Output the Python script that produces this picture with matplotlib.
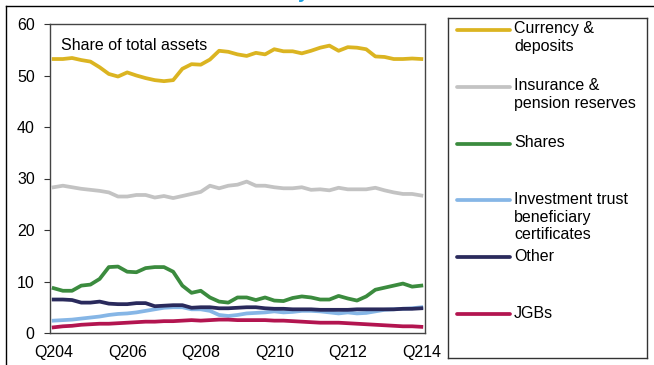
import matplotlib.pyplot as plt
from matplotlib.lines import Line2D

plt.rcParams['font.family'] = ['Liberation Sans', 'DejaVu Sans']

# quarterly shares of household financial assets, Q2 2004 - Q2 2014 (%)
quarters = list(range(41))
tick_pos = [0, 8, 16, 24, 32, 40]
tick_labels = ['Q204', 'Q206', 'Q208', 'Q210', 'Q212', 'Q214']

currency = [53.2, 53.2, 53.4, 53.0, 52.7, 51.6, 50.3, 49.8, 50.6, 50.0,
            49.5, 49.1, 48.9, 49.1, 51.3, 52.2, 52.1, 53.1, 54.8, 54.6,
            54.1, 53.8, 54.4, 54.1, 55.1, 54.7, 54.7, 54.3, 54.8, 55.4,
            55.8, 54.8, 55.5, 55.4, 55.1, 53.7, 53.6, 53.2, 53.2, 53.3, 53.2]
insurance = [28.3, 28.6, 28.3, 28.0, 27.8, 27.6, 27.3, 26.5, 26.5, 26.8,
             26.8, 26.3, 26.6, 26.2, 26.6, 27.0, 27.4, 28.6, 28.1, 28.6,
             28.8, 29.4, 28.6, 28.6, 28.3, 28.1, 28.1, 28.3, 27.8, 27.9,
             27.7, 28.2, 27.9, 27.9, 27.9, 28.2, 27.7, 27.3, 27.0, 27.0, 26.7]
shares = [8.7, 8.2, 8.2, 9.2, 9.4, 10.5, 12.8, 12.9, 11.9, 11.8,
          12.6, 12.8, 12.8, 11.9, 9.2, 7.8, 8.2, 6.9, 6.1, 5.9,
          6.9, 6.9, 6.4, 6.9, 6.3, 6.2, 6.8, 7.1, 6.9, 6.5,
          6.5, 7.2, 6.7, 6.3, 7.1, 8.4, 8.8, 9.2, 9.6, 9.0, 9.2]
inv_trust = [2.4, 2.5, 2.6, 2.8, 3.0, 3.2, 3.5, 3.7, 3.8, 4.0,
             4.3, 4.6, 4.9, 5.0, 5.0, 4.6, 4.6, 4.3, 3.5, 3.3,
             3.5, 3.8, 3.9, 4.0, 4.2, 4.0, 4.1, 4.3, 4.3, 4.2,
             4.0, 3.8, 4.0, 3.8, 3.9, 4.2, 4.5, 4.6, 4.7, 4.8, 5.0]
other = [6.5, 6.5, 6.4, 5.9, 5.9, 6.1, 5.7, 5.6, 5.6, 5.8,
         5.8, 5.2, 5.3, 5.4, 5.4, 4.9, 5.0, 5.0, 4.8, 4.8,
         4.9, 5.0, 5.0, 4.8, 4.7, 4.7, 4.6, 4.6, 4.6, 4.5,
         4.5, 4.5, 4.5, 4.6, 4.6, 4.6, 4.6, 4.6, 4.7, 4.7, 4.8]
jgbs = [1.1, 1.3, 1.4, 1.6, 1.7, 1.8, 1.8, 1.9, 2.0, 2.1,
        2.2, 2.2, 2.3, 2.3, 2.4, 2.5, 2.4, 2.5, 2.6, 2.6,
        2.5, 2.5, 2.5, 2.5, 2.4, 2.4, 2.3, 2.2, 2.1, 2.0,
        2.0, 2.0, 1.9, 1.8, 1.7, 1.6, 1.5, 1.4, 1.3, 1.3, 1.2]

series = [
    ('Currency &\ndeposits', currency, '#DBB421'),
    ('Insurance &\npension reserves', insurance, '#C3C3C3'),
    ('Shares', shares, '#3B8B3E'),
    ('Investment trust\nbeneficiary\ncertificates', inv_trust, '#86B6E6'),
    ('Other', other, '#2A2A5C'),
    ('JGBs', jgbs, '#B31550'),
]

fig = plt.figure(figsize=(6.54, 3.65), dpi=100)
ax = fig.add_axes([50 / 654, 1 - 333 / 365, 375 / 654, 309 / 365])

for label, vals, col in series:
    ax.plot(quarters, vals, color=col, lw=2.7, solid_joinstyle='round')

ax.set_xlim(-0.4, 40.4)
ax.set_ylim(0, 60)
ax.set_yticks(range(0, 61, 10))
ax.set_xticks(tick_pos)
ax.set_xticklabels(tick_labels)
ax.tick_params(axis='y', direction='out', length=4, width=0.8, pad=7,
               labelsize=11.5, color='#333333')
ax.tick_params(axis='x', length=0, pad=8.5, labelsize=11.5)
for sp in ax.spines.values():
    sp.set_color('#444444')
    sp.set_linewidth(1)
ax.text(0.03, 0.955, 'Share of total assets', transform=ax.transAxes,
        fontsize=11.5, va='top', ha='left')

# legend box drawn by hand so the key lines sit level with the first text line
lg = fig.add_axes([448 / 654, 1 - 358 / 365, 199 / 654, 340 / 365])
lg.set_xlim(0, 199)
lg.set_ylim(340, 0)
lg.set_xticks([])
lg.set_yticks([])
for sp in lg.spines.values():
    sp.set_color('#333333')
    sp.set_linewidth(1)
for i, (label, vals, col) in enumerate(series):
    y = 12 + i * 56.8
    lg.plot([9, 62], [y, y], color=col, lw=2.7, solid_capstyle='round')
    lg.text(66, y - 8.5, label, fontsize=11.5, va='top', ha='left',
            linespacing=1.22)

# outer frame and the clipped heading above it
fig.add_artist(Line2D([6 / 654, 1], [1 - 6 / 365, 1 - 6 / 365],
                      transform=fig.transFigure, color='black', lw=1))
fig.add_artist(Line2D([6 / 654, 6 / 654], [0, 1 - 6 / 365],
                      transform=fig.transFigure, color='black', lw=1))
fig.text(298 / 654, 1 + 1.5 / 365, 'y', color='#1BA1E2', fontsize=14,
         fontweight='bold', ha='left', va='baseline')

fig.savefig('out.png', dpi=100)
